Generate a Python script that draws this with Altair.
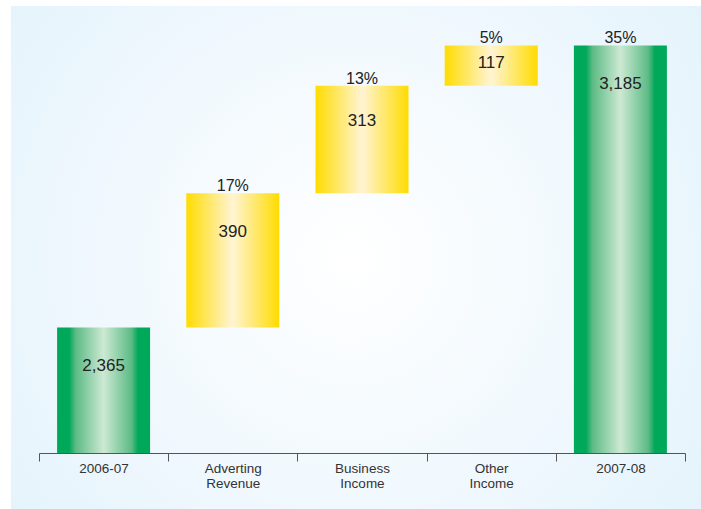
import altair as alt
import pandas as pd

categories = ["2006-07", "Adverting Revenue", "Business Income", "Other Income", "2007-08"]
values = [2365, 390, 313, 117, 3185]
kinds = ["total", "step", "step", "step", "total"]
pct_labels = ["", "17%", "13%", "5%", "35%"]
value_labels = ["2,365", "390", "313", "117", "3,185"]

BASE = 2000  # the value axis starts here (broken axis)
TOP = 3288

rows = []
running = 0
for c, v, k, p, vl in zip(categories, values, kinds, pct_labels, value_labels):
    if k == "total":
        start, end = BASE, v
        running = v
    else:
        start, end = running, running + v
        running = end
    lab = end - min(max(0.33 * (end - start), 50), 112)
    rows.append(dict(cat=c, start=start, end=end, kind=k, pct=p, vlab=vl, labpos=lab))
df = pd.DataFrame(rows)

W, H = 646, 443

xenc = alt.X("cat:N", sort=categories, title=None,
             scale=alt.Scale(paddingInner=0, paddingOuter=0),
             axis=alt.Axis(labelAngle=0, tickBand="extent", tickSize=8, tickColor="#555555",
                           domainColor="#555555", tickWidth=1, domainWidth=1, zindex=1,
                           labelFont="Liberation Sans", labelFontSize=13.5, labelColor="#333333",
                           labelPadding=0, labelLineHeight=15,
                           labelExpr="split(datum.label, ' ')", grid=False))
yscale = alt.Scale(domain=[BASE, TOP], nice=False, zero=False)

bg = alt.Chart(pd.DataFrame({"a": [0]})).mark_rect(
    color=alt.Gradient(gradient="radial", x1=0.49, y1=0.5, x2=0.49, y2=0.5, r1=0, r2=0.75,
                       stops=[alt.GradientStop(color="#ffffff", offset=0),
                              alt.GradientStop(color="#f4fafe", offset=0.35),
                              alt.GradientStop(color="#dff1fb", offset=1)])
).encode(x=alt.value(-28), x2=alt.value(W + 20), y=alt.value(-4), y2=alt.value(H + 60))

green = alt.Gradient(gradient="linear", x1=0, x2=1, y1=0, y2=0,
                     stops=[alt.GradientStop(color="#00a859", offset=0),
                            alt.GradientStop(color="#00a859", offset=0.13),
                            alt.GradientStop(color="#5cbb85", offset=0.2),
                            alt.GradientStop(color="#cde9d3", offset=0.5),
                            alt.GradientStop(color="#5cbb85", offset=0.8),
                            alt.GradientStop(color="#00a859", offset=0.87),
                            alt.GradientStop(color="#00a859", offset=1)])
yellow = alt.Gradient(gradient="linear", x1=0, x2=1, y1=0, y2=0,
                      stops=[alt.GradientStop(color="#ffdc00", offset=0),
                             alt.GradientStop(color="#fff4d4", offset=0.5),
                             alt.GradientStop(color="#ffdc00", offset=1)])

base = alt.Chart(df)
bars_total = base.transform_filter("datum.kind == 'total'").mark_bar(color=green, width=93).encode(
    x=xenc, y=alt.Y("end:Q", scale=yscale, axis=None), y2="start:Q")
bars_step = base.transform_filter("datum.kind == 'step'").mark_bar(color=yellow, width=93).encode(
    x=alt.X("cat:N", sort=categories), y=alt.Y("end:Q", scale=yscale, axis=None), y2="start:Q")

pct = base.mark_text(font="Liberation Sans", fontSize=16, color="#222222", baseline="bottom", dy=1).encode(
    x=alt.X("cat:N", sort=categories), y=alt.Y("end:Q", scale=yscale, axis=None), text="pct:N")
vals = base.mark_text(font="Liberation Sans", fontSize=17, color="#222222", baseline="middle").encode(
    x=alt.X("cat:N", sort=categories), y=alt.Y("labpos:Q", scale=yscale, axis=None), text="vlab:N")

chart = alt.layer(bg, bars_total, bars_step, pct, vals).properties(
    width=W, height=H,
    autosize=alt.AutoSizeParams(type="none"),
    padding={"left": 39, "top": 10, "right": 16, "bottom": 56},
    background="#ffffff",
).configure_view(stroke=None)

chart.save("out.html", embed_options={"renderer": "svg", "actions": False})
